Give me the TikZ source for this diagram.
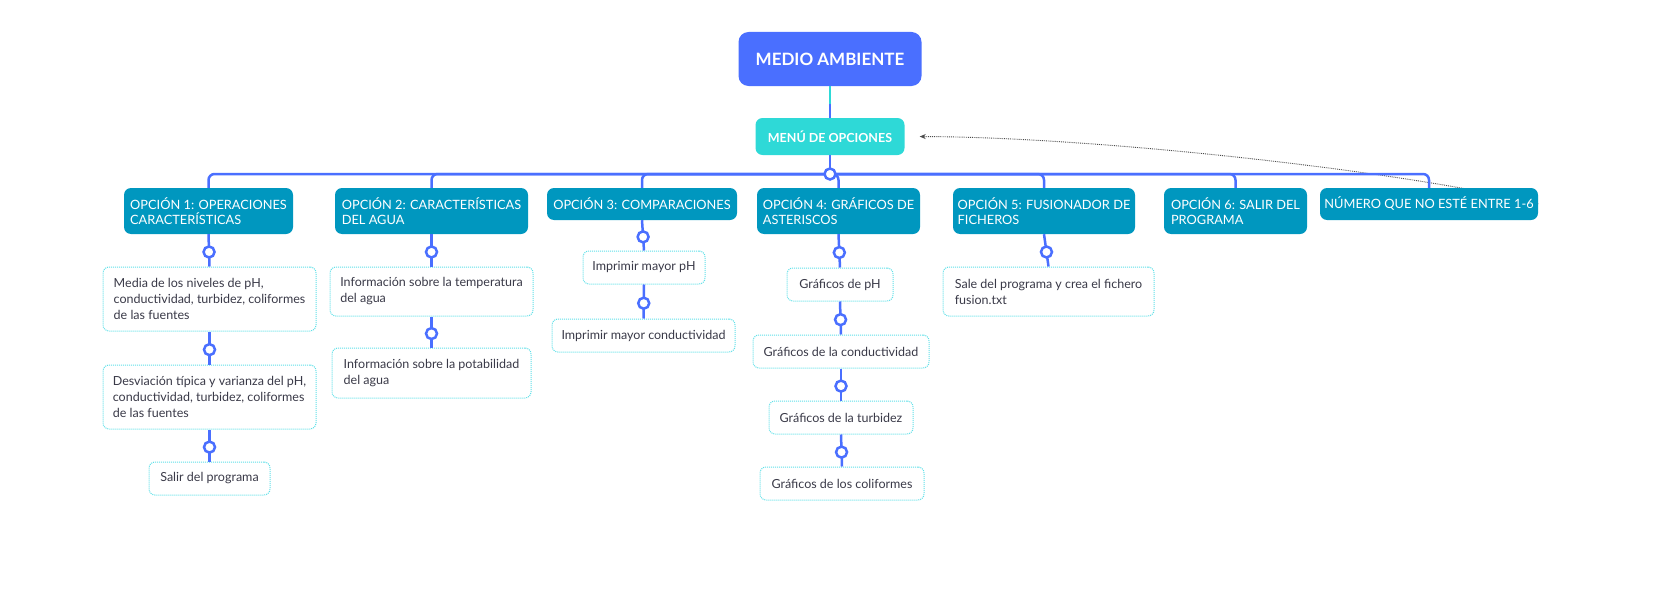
\documentclass[tikz,border=0pt]{standalone}
\usepackage{fontspec}
\setmainfont{Lato}
\usetikzlibrary{arrows.meta,backgrounds}

\definecolor{rootblue}{HTML}{4A6FFF}
\definecolor{menucyan}{HTML}{2ED9D7}
\definecolor{optblue}{HTML}{0097BF}
\definecolor{leafline}{HTML}{5EE0E8}
\definecolor{leaftext}{HTML}{3A3A48}

\begin{document}
\begin{tikzpicture}[x=1pt, y=-1pt,
  root/.style={fill=rootblue, text=white, rounded corners=10pt, inner sep=0pt,
    font=\fontsize{17}{20}\selectfont\bfseries},
  menu/.style={fill=menucyan, text=white, rounded corners=7pt, inner sep=0pt,
    font=\fontsize{12.5}{15}\selectfont\bfseries},
  opt/.style={fill=optblue, text=white, rounded corners=7pt, inner sep=0pt, align=left,
    font=\fontsize{12.8}{15}\selectfont},
  leaf/.style={draw=leafline, densely dotted, line width=1pt, fill=white, text=leaftext,
    rounded corners=6pt, inner sep=0pt, align=left, font=\fontsize{12.5}{16}\selectfont},
  bus/.style={draw=rootblue, line width=2.5pt},
  knob/.style={circle, draw=rootblue, fill=white, line width=2.5pt, minimum size=11pt, inner sep=0pt}
]

\path [use as bounding box] (0,0) rectangle (1668,594);

% TOP
\node [root, minimum width=183pt, minimum height=54pt] (root) at (830,59) {MEDIO AMBIENTE};
\node [menu, minimum width=149pt, minimum height=37pt] (menu) at (830,136.5) {MENÚ DE OPCIONES};
\coordinate (hub) at (830,174);

% OPTIONS
\node [opt, minimum width=169pt, minimum height=46pt] (op1) at (208.5,211) {OPCIÓN 1: OPERACIONES\\CARACTERÍSTICAS};
\node [opt, minimum width=193pt, minimum height=46pt] (op2) at (431.5,211) {OPCIÓN 2: CARACTERÍSTICAS\\DEL AGUA};
\node [opt, minimum width=190pt, minimum height=32pt] (op3) at (642,204) {OPCIÓN 3: COMPARACIONES};
\node [opt, minimum width=163pt, minimum height=46pt] (op4) at (838.5,211) {OPCIÓN 4: GRÁFICOS DE\\ASTERISCOS};
\node [opt, minimum width=182pt, minimum height=46pt] (op5) at (1044,211) {OPCIÓN 5: FUSIONADOR DE\\FICHEROS};
\node [opt, minimum width=143pt, minimum height=46pt] (op6) at (1235.5,211) {OPCIÓN 6: SALIR DEL\\PROGRAMA};
\node [opt, minimum width=218pt, minimum height=32pt] (num) at (1429,204) {NÚMERO QUE NO ESTÉ ENTRE 1-6};

% LEAVES
\node [leaf, minimum width=213pt, minimum height=64pt] (l11) at (209.5,299) {Media de los niveles de pH,\\conductividad, turbidez, coliformes\\de las fuentes};
\node [leaf, minimum width=213pt, minimum height=64pt] (l12) at (209.5,397) {Desviación típica y varianza del pH,\\conductividad, turbidez, coliformes\\de las fuentes};
\node [leaf, minimum width=121pt, minimum height=33pt] (l13) at (209.5,478.5) {Salir del programa};
\node [leaf, minimum width=203pt, minimum height=49pt] (l21) at (431.5,291.5) {Información sobre la temperatura\\del agua};
\node [leaf, minimum width=199pt, minimum height=50pt] (l22) at (431.5,373) {Información sobre la potabilidad\\del agua};
\node [leaf, minimum width=122pt, minimum height=33pt] (l31) at (644,267.5) {Imprimir mayor pH};
\node [leaf, minimum width=183pt, minimum height=33pt] (l32) at (643.5,335.5) {Imprimir mayor conductividad};
\node [leaf, minimum width=106pt, minimum height=33pt] (l41) at (840,284.5) {Gráficos de pH};
\node [leaf, minimum width=176pt, minimum height=33pt] (l42) at (841,351.5) {Gráficos de la conductividad};
\node [leaf, minimum width=144pt, minimum height=33pt] (l43) at (841,417.5) {Gráficos de la turbidez};
\node [leaf, minimum width=164pt, minimum height=33pt] (l44) at (842,483.5) {Gráficos de los coliformes};
\node [leaf, minimum width=211pt, minimum height=49pt] (l51) at (1048.5,291.5) {Sale del programa y crea el fichero\\fusion.txt};

% LINKS
\draw [bus] (root.south) -- (menu.north);
\draw [bus, draw=menucyan, shorten >=14pt] (root.south) -- (menu.north);
\draw [bus] (menu.south) -- (hub);
\foreach \o in {op1,op2,op3,op4,op5,op6,num}
  \draw [bus, rounded corners=6pt] (hub) -| (\o.north);
\node [knob] (hubknob) at (hub) {};
\foreach \a/\b in {op1/l11, l11/l12, l12/l13, op2/l21, l21/l22, op3/l31, l31/l32,
                   op4/l41, l41/l42, l42/l43, l43/l44, op5/l51}
  \draw [bus] (\a.south) -- (\b.north) node [knob, pos=0.55] (k-\b) {};

% BACK TO MENU
\begin{pgfonlayer}{background}
\draw [densely dotted, line width=0.9pt, draw=black!70, -{Stealth[length=6pt, width=5pt]}, shorten >=15pt]
  (num.east) .. controls (1410,172) and (1100,137) .. (menu.east);
\end{pgfonlayer}

\end{tikzpicture}
\end{document}
